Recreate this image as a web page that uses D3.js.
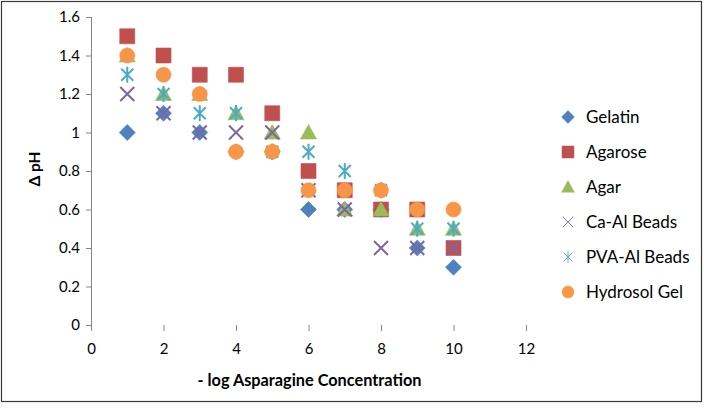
<!DOCTYPE html>
<html>
<head>
<meta charset="utf-8">
<script src="https://cdn.jsdelivr.net/npm/d3@7"></script>
<style>
	body { margin: 0; background: #fff; }
	svg text { font-family: Lato, "Open Sans", sans-serif; fill: #000; }
	.axis path.domain { stroke: none; }
	.axis line { stroke: #868686; }
	.axis text { font-size: 15px; }
</style>
</head>
<body>
<svg id="chart" width="704" height="408"></svg>
<script>
"use strict";

// Chart values
var concentrations = [1, 2, 3, 4, 5, 6, 7, 8, 9, 10];
var gelatin  = [1.0, 1.1, 1.0, 0.9, 0.9, 0.6, 0.6, 0.6, 0.4, 0.3];
var agarose  = [1.5, 1.4, 1.3, 1.3, 1.1, 0.8, 0.7, 0.6, 0.6, 0.4];
var agar     = [1.4, 1.2, 1.2, 1.1, 1.0, 1.0, 0.6, 0.6, 0.5, 0.5];
var caAl     = [1.2, 1.1, 1.0, 1.0, 1.0, 0.7, 0.6, 0.4, 0.4, 0.4];
var pvaAl    = [1.3, 1.2, 1.1, 1.1, 0.9, 0.9, 0.8, 0.7, 0.5, 0.5];
var hydrosol = [1.4, 1.3, 1.2, 0.9, 0.9, 0.7, 0.7, 0.7, 0.6, 0.6];
var seriesNames = ["Gelatin", "Agarose", "Agar", "Ca-Al Beads", "PVA-Al Beads", "Hydrosol Gel"];
var xTicks = [0, 2, 4, 6, 8, 10, 12];
var yTicks = [0, 0.2, 0.4, 0.6, 0.8, 1, 1.2, 1.4, 1.6];

var seriesValues = [gelatin, agarose, agar, caAl, pvaAl, hydrosol];
var colours = ["#4F81BD", "#C0504D", "#9BBB59", "#8064A2", "#4BACC6", "#F79646"];

// marker shapes, roughly Excel's defaults
var markers = [
	{path: "M 0,-8 L 8,0 L 0,8 L -8,0Z", stroke: false},            // diamond
	{path: "M -7.5,-7.5 L 7.5,-7.5 L 7.5,7.5 L -7.5,7.5Z", stroke: false}, // square
	{path: "M 0,-8 L 8,6.5 L -8,6.5Z", stroke: false},              // triangle
	{path: "M -7,-7 L 7,7 M 7,-7 L -7,7", stroke: true},            // x
	{path: "M -6,-6 L 6,6 M 6,-6 L -6,6 M 0,-8 L 0,8", stroke: true}, // star
	{path: "M -7.5,0 A 7.5,7.5 0 1 1 -7.5,0.0001Z", stroke: false}   // circle
];

var svg = d3.select("#chart");
var margin = {top: 17, left: 91, right: 178, bottom: 83};
var width = 704 - margin.left - margin.right;
var height = 408 - margin.top - margin.bottom;

// outer frame
svg.append("rect")
	.attr("x", 1.5).attr("y", 1.5)
	.attr("width", 700).attr("height", 400)
	.attr("fill", "#fff")
	.attr("stroke", "#3a3a3a")
	.attr("stroke-width", 1.2);

var chart = svg.append("g")
	.attr("transform", "translate(" + margin.left + "," + margin.top + ")");

var x = d3.scaleLinear().domain([0, 12]).range([0, width]);
var y = d3.scaleLinear().domain([0, 1.6]).range([height, 0]);

var yAxis = chart.append("g").attr("class", "axis")
	.call(d3.axisLeft(y).tickValues(yTicks).tickSize(5).tickPadding(6)
		.tickFormat(function(d) { return d3.format("")(+d.toFixed(1)); }));
chart.append("line")
	.attr("x1", 0.5).attr("x2", 0.5)
	.attr("y1", 0).attr("y2", height + 6)
	.attr("stroke", "#868686");

var xAxis = chart.append("g").attr("class", "axis")
	.attr("transform", "translate(0," + height + ")")
	.call(d3.axisBottom(x).tickValues(xTicks).tickSize(6).tickPadding(12));

// axis titles
chart.append("text")
	.attr("x", width / 2 + 1).attr("y", height + 61)
	.attr("text-anchor", "middle")
	.style("font-size", "16.3px").style("font-weight", "bold")
	.text("- log Asparagine Concentration");
chart.append("text")
	.attr("transform", "translate(" + (-51) + "," + (height / 2 - 2) + ") rotate(-90)")
	.attr("text-anchor", "middle")
	.style("font-size", "15.5px").style("font-weight", "bold")
	.text("\u0394 pH");

// points, series drawn in order so later ones sit on top
seriesValues.forEach(function(values, i) {
	var m = markers[i];
	chart.append("g")
		.selectAll("path")
		.data(values)
		.enter()
		.append("path")
		.attr("transform", function(d, j) { return "translate(" + x(concentrations[j]) + "," + y(d) + ")"; })
		.attr("d", m.path)
		.attr("fill", m.stroke ? "none" : colours[i])
		.attr("stroke", colours[i])
		.attr("stroke-width", m.stroke ? 2 : 0.6);
});

// legend
var legend = svg.append("g")
	.attr("transform", "translate(568,117)")
	.selectAll("g")
	.data(seriesNames)
	.enter()
	.append("g")
	.attr("transform", function(d, i) { return "translate(0," + (i * 35) + ")"; });
legend.append("path")
	.attr("d", function(d, i) { return markers[i].path; })
	.attr("transform", function(d, i) { return markers[i].stroke ? "scale(0.75)" : "scale(0.8)"; })
	.attr("fill", function(d, i) { return markers[i].stroke ? "none" : colours[i]; })
	.attr("stroke", function(d, i) { return colours[i]; })
	.attr("stroke-width", function(d, i) { return markers[i].stroke ? 1.2 : 0.6; });
legend.append("text")
	.attr("x", 18).attr("y", 6)
	.style("font-size", "17px")
	.text(function(d) { return d; });
</script>
</body>
</html>
